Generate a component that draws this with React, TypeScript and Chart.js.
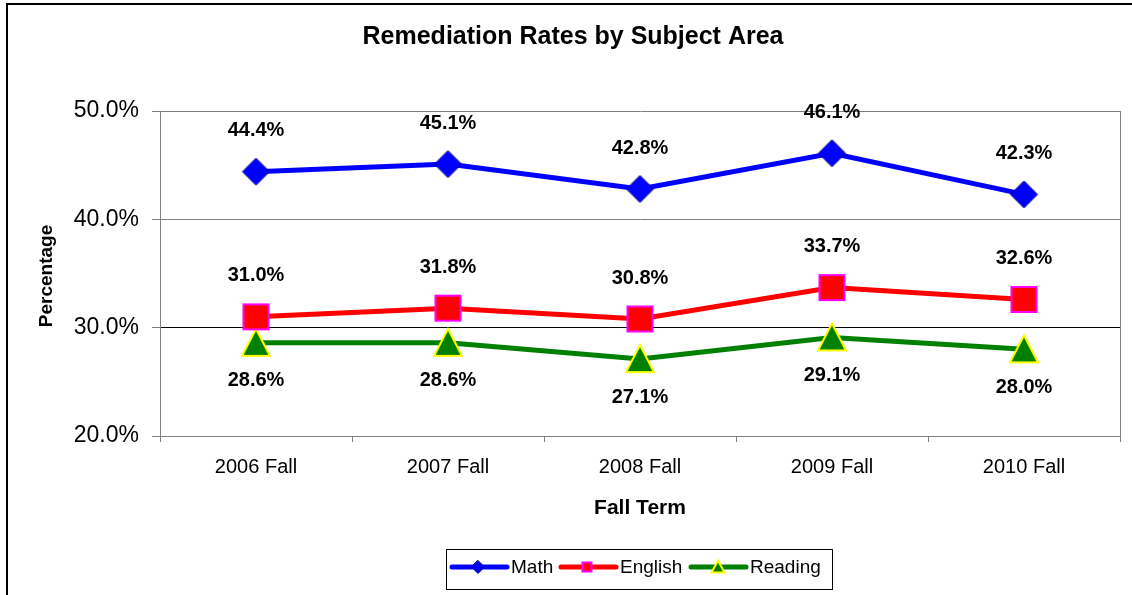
import React, { useEffect, useRef } from "react";
import { Chart, registerables } from "chart.js";

Chart.register(...registerables);

const categories = ["2006 Fall", "2007 Fall", "2008 Fall", "2009 Fall", "2010 Fall"];
const mathValues = [44.4, 45.1, 42.8, 46.1, 42.3];
const englishValues = [31.0, 31.8, 30.8, 33.7, 32.6];
const readingValues = [28.6, 28.6, 27.1, 29.1, 28.0];
const seriesNames = ["Math", "English", "Reading"];
const yMin = 20;
const yMax = 50;
const yStep = 10;
const chartTitle = "Remediation Rates by Subject Area";
const xTitle = "Fall Term";
const yTitle = "Percentage";

const FONT = '"Liberation Sans", Arial, sans-serif';
const W = 1132;
const H = 595;

type Shape = "diamond" | "square" | "triangle";

function makeMarker(shape: Shape, fill: string, stroke: string, s: number): HTMLCanvasElement {
  const c = document.createElement("canvas");
  const pad = 2;
  c.width = s + pad * 2;
  c.height = s + pad * 2;
  const ctx = c.getContext("2d")!;
  drawShape(ctx, shape, c.width / 2, c.height / 2, s, fill, stroke);
  return c;
}

function drawShape(ctx: CanvasRenderingContext2D, shape: Shape, cx: number, cy: number, s: number, fill: string, stroke: string) {
  const h = s / 2;
  ctx.save();
  ctx.beginPath();
  if (shape === "diamond") {
    ctx.moveTo(cx, cy - h);
    ctx.lineTo(cx + h, cy);
    ctx.lineTo(cx, cy + h);
    ctx.lineTo(cx - h, cy);
    ctx.closePath();
    ctx.lineWidth = 1;
  } else if (shape === "square") {
    ctx.rect(cx - h + 1, cy - h + 1, s - 2, s - 2);
    ctx.lineWidth = 2;
  } else {
    ctx.moveTo(cx, cy - h);
    ctx.lineTo(cx + h, cy + h - 1);
    ctx.lineTo(cx - h, cy + h - 1);
    ctx.closePath();
    ctx.lineWidth = 2;
  }
  ctx.fillStyle = fill;
  ctx.fill();
  ctx.strokeStyle = stroke;
  ctx.lineJoin = "miter";
  ctx.stroke();
  ctx.restore();
}

const seriesStyles = [
  { line: "#0000FF", fill: "#0000FF", stroke: "#000080", shape: "diamond" as Shape, size: 27, legendSize: 13, labelDy: -41 },
  { line: "#FF0000", fill: "#FF0000", stroke: "#FF00FF", shape: "square" as Shape, size: 27, legendSize: 11, labelDy: -41 },
  { line: "#008000", fill: "#008000", stroke: "#FFFF00", shape: "triangle" as Shape, size: 28, legendSize: 13, labelDy: 38 },
];

export default function App() {
  const ref = useRef<HTMLCanvasElement | null>(null);

  useEffect(() => {
    const canvas = ref.current;
    if (!canvas) return;
    const values = [mathValues, englishValues, readingValues];

    const decorPlugin = {
      id: "decor",
      afterDatasetsDraw(chart: any) {
        const ctx: CanvasRenderingContext2D = chart.ctx;
        ctx.save();
        ctx.font = `bold 20px ${FONT}`;
        ctx.fillStyle = "#000";
        ctx.textAlign = "center";
        ctx.textBaseline = "middle";
        chart.data.datasets.forEach((ds: any, i: number) => {
          const meta = chart.getDatasetMeta(i);
          meta.data.forEach((pt: any, j: number) => {
            const v = ds.data[j] as number;
            ctx.fillText(v.toFixed(1) + "%", pt.x, pt.y + seriesStyles[i].labelDy);
          });
        });
        ctx.restore();
      },
      afterDraw(chart: any) {
        const ctx: CanvasRenderingContext2D = chart.ctx;
        const a = chart.chartArea;
        ctx.save();
        // right plot border
        ctx.strokeStyle = "#808080";
        ctx.lineWidth = 1;
        ctx.beginPath();
        ctx.moveTo(a.right + 0.5, a.top);
        ctx.lineTo(a.right + 0.5, a.bottom + 6);
        ctx.stroke();
        // outer frame (top & left)
        ctx.strokeStyle = "#000";
        ctx.lineWidth = 2;
        ctx.beginPath();
        ctx.moveTo(7, H);
        ctx.lineTo(7, 4);
        ctx.lineTo(W, 4);
        ctx.stroke();
        // title
        ctx.fillStyle = "#000";
        ctx.textAlign = "center";
        ctx.textBaseline = "alphabetic";
        ctx.font = `bold 25px ${FONT}`;
        ctx.fillText(chartTitle, 573, 44);
        // x title
        ctx.font = `bold 21px ${FONT}`;
        ctx.fillText(xTitle, 640, 514);
        // y title
        ctx.save();
        ctx.translate(52, 276);
        ctx.rotate(-Math.PI / 2);
        ctx.font = `bold 19px ${FONT}`;
        ctx.fillText(yTitle, 0, 0);
        ctx.restore();
        // legend
        ctx.strokeStyle = "#000";
        ctx.lineWidth = 1;
        ctx.strokeRect(446.5, 549.5, 386, 40);
        const items = [
          { x0: 452, x1: 507, mx: 478, tx: 511 },
          { x0: 561, x1: 616, mx: 587, tx: 620 },
          { x0: 691, x1: 746, mx: 718, tx: 750 },
        ];
        const ly = 567;
        items.forEach((it, i) => {
          const st = seriesStyles[i];
          ctx.strokeStyle = st.line;
          ctx.lineWidth = 5;
          ctx.lineCap = "round";
          ctx.beginPath();
          ctx.moveTo(it.x0, ly);
          ctx.lineTo(it.x1, ly);
          ctx.stroke();
          drawShape(ctx, st.shape, it.mx, ly, st.legendSize, st.fill, st.stroke);
          ctx.fillStyle = "#000";
          ctx.textAlign = "left";
          ctx.textBaseline = "middle";
          ctx.font = `19px ${FONT}`;
          ctx.fillText(seriesNames[i], it.tx, ly + 1);
        });
        ctx.restore();
      },
    };

    const datasets = values.map((vals, i) => {
      const st = seriesStyles[i];
      const marker = makeMarker(st.shape, st.fill, st.stroke, st.size);
      return {
        label: seriesNames[i],
        data: vals,
        borderColor: st.line,
        backgroundColor: st.fill,
        borderWidth: 5,
        pointStyle: marker,
        pointRadius: 14,
        pointHoverRadius: 14,
        tension: 0,
      };
    });

    const chart = new Chart(canvas, {
      type: "line",
      data: { labels: categories, datasets },
      plugins: [decorPlugin],
      options: {
        animation: false,
        responsive: false,
        devicePixelRatio: 1,
        events: [],
        layout: { autoPadding: false, padding: { left: 0, right: 12, top: 111, bottom: 0 } },
        plugins: {
          legend: { display: false },
          title: { display: false },
          tooltip: { enabled: false },
        },
        scales: {
          x: {
            type: "category",
            offset: true,
            grid: {
              display: true,
              drawOnChartArea: false,
              drawTicks: true,
              tickLength: 6,
              tickColor: "#808080",
              offset: true,
            },
            border: { display: true, color: "#808080", width: 1 },
            ticks: {
              color: "#000",
              font: { family: FONT, size: 20 },
              padding: 13,
              maxRotation: 0,
              autoSkip: false,
            },
            afterFit: (s: any) => {
              s.height = 159;
              s.paddingLeft = 0;
              s.paddingRight = 0;
            },
          },
          y: {
            min: yMin,
            max: yMax,
            grid: {
              color: (c: any) => (c.tick && c.tick.value === 30 ? "#000000" : "#808080"),
              lineWidth: 1,
              tickLength: 8,
              tickColor: "#808080",
            },
            border: { display: true, color: "#808080", width: 1 },
            ticks: {
              stepSize: yStep,
              color: "#000",
              font: { family: FONT, size: 23 },
              padding: 13,
              callback: (v: any) => Number(v).toFixed(1) + "%",
            },
            afterFit: (s: any) => {
              s.width = 160;
              s.paddingTop = 0;
              s.paddingBottom = 0;
            },
          },
        },
      },
    } as any);

    return () => chart.destroy();
  }, []);

  return (
    <div style={{ position: "absolute", left: 0, top: 0, width: W, height: H, background: "#fff" }}>
      <canvas ref={ref} width={W} height={H} style={{ display: "block", width: W, height: H }} />
    </div>
  );
}
